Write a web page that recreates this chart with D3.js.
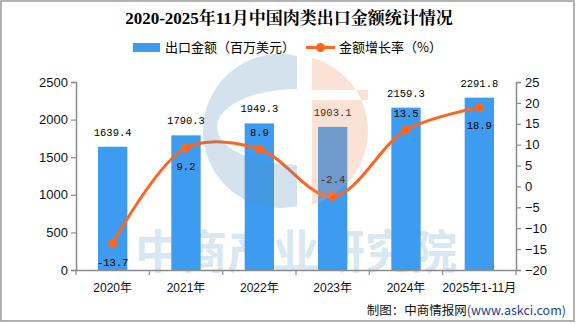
<!DOCTYPE html>
<html>
<head>
<meta charset="utf-8">
<script src="https://cdn.jsdelivr.net/npm/d3@7"></script>
<style>
  html, body { margin: 0; padding: 0; background: #fff; }
  svg { display: block; }
  text { font-family: "Liberation Sans", "Noto Sans CJK SC", sans-serif; }
</style>
</head>
<body>
<svg></svg>
<script>
var categories = ['2020年', '2021年', '2022年', '2023年', '2024年', '2025年1-11月'];
var exportValue = [1639.4, 1790.3, 1949.3, 1903.1, 2159.3, 2291.8];
var growthRate = [-13.7, 9.2, 8.9, -2.4, 13.5, 18.9];
var leftTicks = [0, 500, 1000, 1500, 2000, 2500];
var rightTicks = [-20, -15, -10, -5, 0, 5, 10, 15, 20, 25];

// which growth labels sit under their point
var labelBelow = [true, true, false, false, false, true];

var width = 576, height = 324;
var barColor = '#3e9cf0', lineColor = '#ff6421', axisColor = '#8c8c8c';
var cjk = '"Noto Sans CJK SC", sans-serif';
var mono = '"Liberation Mono", "DejaVu Sans Mono", monospace';

var svg = d3.select('svg')
    .attr('width', width)
    .attr('height', height);

// outer frame
svg.append('rect')
    .attr('x', 1).attr('y', 1)
    .attr('width', width - 3).attr('height', height - 4)
    .attr('fill', 'none')
    .attr('stroke', '#999')
    .attr('stroke-width', 1.5);

var x = d3.scaleBand().domain(categories).range([76, 516]).padding(0);
var yL = d3.scaleLinear().domain([0, 2500]).range([270, 82]);
var yR = d3.scaleLinear().domain([-20, 25]).range([270, 82]);

// title
svg.append('text')
    .attr('x', 289).attr('y', 24)
    .attr('text-anchor', 'middle')
    .attr('font-size', '17px')
    .attr('font-weight', 'bold')
    .style('font-family', '"Liberation Serif", "Noto Serif CJK SC", "Noto Sans CJK SC", serif')
    .text('2020-2025年11月中国肉类出口金额统计情况');

// legend
var legend = svg.append('g');
legend.append('rect')
    .attr('x', 133).attr('y', 43).attr('width', 27).attr('height', 9)
    .attr('fill', barColor);
legend.append('text')
    .attr('x', 165).attr('y', 52)
    .attr('font-size', '13px')
    .style('font-family', cjk)
    .text('出口金额（百万美元）');
legend.append('line')
    .attr('x1', 306).attr('x2', 335).attr('y1', 47.5).attr('y2', 47.5)
    .attr('stroke', lineColor).attr('stroke-width', 3);
legend.append('circle')
    .attr('cx', 320.5).attr('cy', 47.5).attr('r', 4.5)
    .attr('fill', lineColor);
legend.append('text')
    .attr('x', 339).attr('y', 52)
    .attr('font-size', '13px')
    .style('font-family', cjk)
    .text('金额增长率（%）');

// watermark text behind the bars
svg.append('text')
    .attr('x', 296).attr('y', 268)
    .attr('text-anchor', 'middle')
    .attr('font-size', '46px')
    .attr('font-weight', 'bold')
    .attr('fill', '#d8e7f1')
    .style('font-family', cjk)
    .text('中商产业研究院');

// bars
svg.selectAll('rect.bar')
    .data(exportValue)
    .enter()
    .append('rect')
    .attr('class', 'bar')
    .attr('x', function(d, i) { return x(categories[i]) + x.bandwidth() * 0.3; })
    .attr('width', x.bandwidth() * 0.4)
    .attr('y', function(d) { return yL(d); })
    .attr('height', function(d) { return yL(0) - yL(d); })
    .attr('fill', barColor);

svg.selectAll('text.barLabel')
    .data(exportValue)
    .enter()
    .append('text')
    .attr('class', 'barLabel')
    .attr('x', function(d, i) { return x(categories[i]) + x.bandwidth() / 2; })
    .attr('y', function(d) { return yL(d) - 11; })
    .attr('text-anchor', 'middle')
    .attr('font-size', '10.5px')
    .style('font-family', mono)
    .text(function(d) { return d.toFixed(1); });

// growth line
var line = d3.line()
    .x(function(d, i) { return x(categories[i]) + x.bandwidth() / 2; })
    .y(function(d) { return yR(d); })
    .curve(d3.curveCatmullRom.alpha(0.5));

svg.append('path')
    .datum(growthRate)
    .attr('d', line)
    .attr('fill', 'none')
    .attr('stroke', lineColor)
    .attr('stroke-width', 3);

svg.selectAll('circle.pt')
    .data(growthRate)
    .enter()
    .append('circle')
    .attr('class', 'pt')
    .attr('cx', function(d, i) { return x(categories[i]) + x.bandwidth() / 2; })
    .attr('cy', function(d) { return yR(d); })
    .attr('r', 4.5)
    .attr('fill', lineColor);

svg.selectAll('text.rateLabel')
    .data(growthRate)
    .enter()
    .append('text')
    .attr('class', 'rateLabel')
    .attr('x', function(d, i) { return x(categories[i]) + x.bandwidth() / 2; })
    .attr('y', function(d, i) { return yR(d) + (labelBelow[i] ? 22 : -13); })
    .attr('text-anchor', 'middle')
    .attr('font-size', '10.5px')
    .style('font-family', mono)
    .text(function(d) { return d.toFixed(1); });

// logo watermark on top, semi transparent
var defs = svg.append('defs');
defs.append('clipPath').attr('id', 'leftHalf')
    .append('rect').attr('x', 190).attr('y', 40).attr('width', 107).attr('height', 180);
defs.append('clipPath').attr('id', 'rightHalf')
    .append('rect').attr('x', 312).attr('y', 40).attr('width', 80).attr('height', 180);

var cx1 = 280, cy = 131, r = 77;
var ring = 'M' + (cx1 - r) + ',' + cy +
    'a' + r + ',' + r + ' 0 1,0 ' + (2 * r) + ',0' +
    'a' + r + ',' + r + ' 0 1,0 ' + (-2 * r) + ',0Z' +
    'M217,127a80,38 0 1,0 160,0a80,38 0 1,0 -160,0Z';
svg.append('path')
    .attr('d', ring)
    .attr('fill-rule', 'evenodd')
    .attr('fill', 'rgb(80,140,180)')
    .attr('fill-opacity', 0.25)
    .attr('clip-path', 'url(#leftHalf)');

var peach = svg.append('g').attr('clip-path', 'url(#rightHalf)');
peach.append('path')
    .attr('d', 'M' + (292 - 76) + ',' + cy +
        'a76,76 0 1,0 152,0a76,76 0 1,0 -152,0Z' +
        'M312,90h56v10h-56Z')
    .attr('fill-rule', 'evenodd')
    .attr('fill', 'rgb(240,150,110)')
    .attr('fill-opacity', 0.28);

// axes
var leftAxis = svg.append('g')
    .attr('transform', 'translate(76,0)')
    .call(d3.axisLeft(yL).tickValues(leftTicks).tickFormat(d3.format('d')).tickSize(5).tickPadding(3));
var rightAxis = svg.append('g')
    .attr('transform', 'translate(516,0)')
    .call(d3.axisRight(yR).tickValues(rightTicks).tickFormat(d3.format('d')).tickSize(5).tickPadding(4));

[leftAxis, rightAxis].forEach(function(a) {
    a.select('.domain').attr('stroke', axisColor).attr('stroke-width', 1.5);
    a.selectAll('.tick line').attr('stroke', axisColor).attr('stroke-width', 1.2);
    a.selectAll('.tick text')
        .attr('font-size', '13px')
        .attr('fill', '#111')
        .style('font-family', '"Liberation Sans", sans-serif');
});

var bottomAxis = svg.append('g')
    .attr('transform', 'translate(0,270)')
    .call(d3.axisBottom(x).tickSize(0).tickPadding(13));
bottomAxis.select('.domain').attr('stroke', axisColor).attr('stroke-width', 1.5);
bottomAxis.selectAll('.tick text')
    .attr('font-size', '12px')
    .attr('fill', '#111')
    .style('font-family', '"Liberation Sans", "Noto Sans CJK SC", sans-serif');

// ticks between categories
svg.selectAll('line.sep')
    .data(d3.range(categories.length + 1))
    .enter()
    .append('line')
    .attr('class', 'sep')
    .attr('x1', function(i) { return 76 + x.step() * i; })
    .attr('x2', function(i) { return 76 + x.step() * i; })
    .attr('y1', 270).attr('y2', 275)
    .attr('stroke', axisColor).attr('stroke-width', 1.2);

// source note
var note = svg.append('text')
    .attr('x', 566).attr('y', 315)
    .attr('text-anchor', 'end')
    .attr('font-size', '12.5px')
    .style('font-family', cjk);
note.append('tspan').attr('fill', '#111').text('制图：中商情报网');
note.append('tspan').attr('fill', '#1f3f8f').text('(www.askci.com)');
</script>
</body>
</html>
